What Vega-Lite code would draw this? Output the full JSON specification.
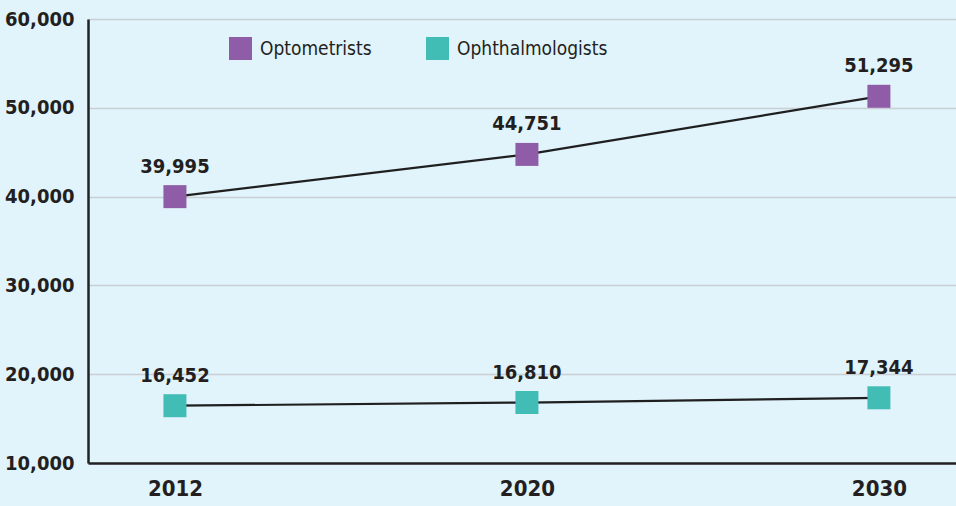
{
  "$schema": "https://vega.github.io/schema/vega-lite/v6.json",
  "width": 868,
  "height": 444,
  "autosize": "none",
  "padding": {"left": 88, "top": 19, "right": 0, "bottom": 43},
  "background": "#e1f3fb",
  "config": {
    "view": {"stroke": null},
    "font": "DejaVu Sans Condensed, Liberation Sans, sans-serif"
  },
  "data": {
    "values": [
      {"year": "2012", "series": "Optometrists", "value": 39995},
      {"year": "2020", "series": "Optometrists", "value": 44751},
      {"year": "2030", "series": "Optometrists", "value": 51295},
      {"year": "2012", "series": "Ophthalmologists", "value": 16452},
      {"year": "2020", "series": "Ophthalmologists", "value": 16810},
      {"year": "2030", "series": "Ophthalmologists", "value": 17344}
    ]
  },
  "encoding": {
    "x": {
      "field": "year", "type": "ordinal",
      "scale": {"type": "point", "padding": 0.233, "align": 0.53},
      "axis": {
        "title": null, "labelAngle": 0, "ticks": false,
        "domainColor": "#222222", "domainWidth": 2.5,
        "labelFont": "DejaVu Sans Condensed, Liberation Sans, sans-serif", "labelFontSize": 22, "labelFontWeight": "bold",
        "labelColor": "#231f20", "labelPadding": 15
      }
    },
    "y": {
      "field": "value", "type": "quantitative",
      "scale": {"domain": [10000, 60000], "nice": false, "zero": false},
      "axis": {
        "title": null, "values": [10000, 20000, 30000, 40000, 50000, 60000],
        "format": ",d", "ticks": false,
        "domainColor": "#222222", "domainWidth": 2.5,
        "gridColor": "#c9cfd4", "gridWidth": 1.5,
        "labelFont": "DejaVu Sans Condensed, Liberation Sans, sans-serif", "labelFontSize": 20, "labelFontWeight": "bold",
        "labelColor": "#231f20", "labelPadding": 14
      }
    }
  },
  "layer": [
    {
      "mark": {"type": "line", "color": "#1f1f1f", "strokeWidth": 2.2},
      "encoding": {"detail": {"field": "series"}}
    },
    {
      "mark": {"type": "point", "shape": "square", "filled": true, "size": 529, "opacity": 1},
      "encoding": {
        "color": {
          "field": "series", "type": "nominal",
          "scale": {"domain": ["Optometrists", "Ophthalmologists"], "range": ["#8f5ca8", "#41bdb5"]},
          "legend": {
            "title": null, "orient": "none", "direction": "horizontal",
            "legendX": 141, "legendY": 18,
            "symbolType": "square", "symbolSize": 529, "symbolStrokeWidth": 0,
            "labelFont": "DejaVu Sans Condensed, Liberation Sans, sans-serif", "labelFontSize": 19, "labelColor": "#231f20",
            "labelOffset": 8, "columnPadding": 54
          }
        }
      }
    },
    {
      "mark": {"type": "text", "dy": -30, "fontSize": 20, "fontWeight": "bold", "color": "#231f20", "font": "DejaVu Sans Condensed, Liberation Sans, sans-serif"},
      "encoding": {"text": {"field": "value", "type": "quantitative", "format": ",d"}}
    }
  ]
}
